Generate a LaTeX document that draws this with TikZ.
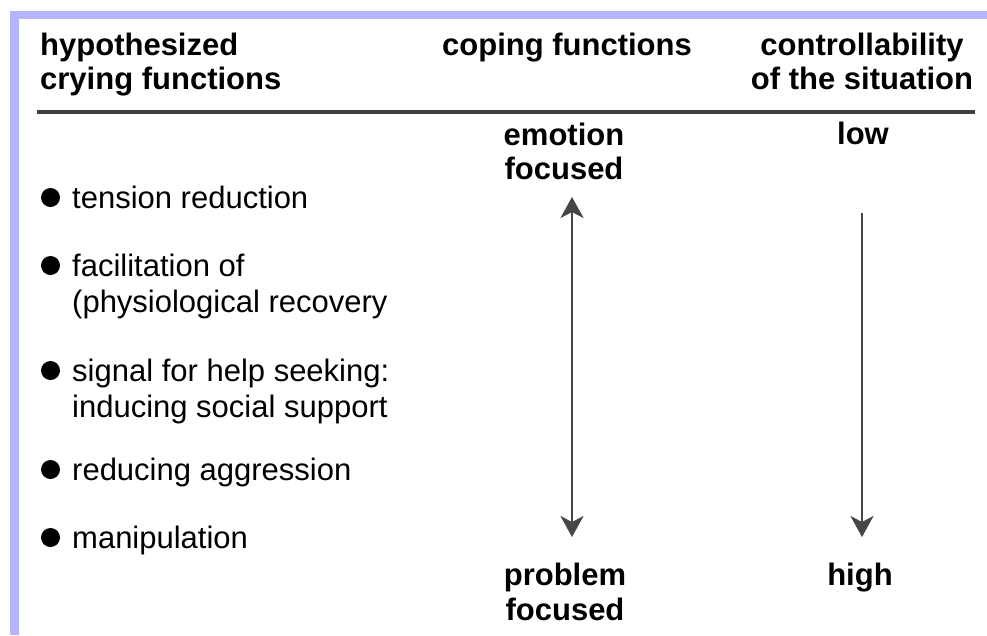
\documentclass[tikz,border=0pt]{standalone}
\usepackage{fontspec}
\setmainfont{Liberation Sans}
\usetikzlibrary{arrows.meta}
\definecolor{lav}{RGB}{180,180,255}
\definecolor{rulegray}{RGB}{64,64,64}
\definecolor{arrgray}{RGB}{70,70,70}
\tikzset{Tp/.tip={Stealth[length=21pt,width=23pt,inset=6pt]}}
\begin{document}
\begin{tikzpicture}[x=1pt,y=-1pt,
  txt/.style={inner sep=0pt, font=\fontsize{31}{34}\selectfont},
  hd/.style={inner sep=0pt, font=\fontsize{31}{34}\selectfont\bfseries},
  bul/.style={fill=black},
  arr/.style={draw=arrgray, line width=2.5pt}]
\useasboundingbox (0,0) rectangle (987,635);
\fill[white] (0,0) rectangle (987,635);
\fill[lav] (10,11) rectangle (987,19);
\fill[lav] (10,11) rectangle (19,635);
% headers
\node[hd, anchor=base west] (h1a) at (40,55) {hypothesized};
\node[hd, anchor=base west] (h1b) at (40,89) {crying functions};
\node[hd, anchor=base] (h2) at (567,55) {coping functions};
\node[hd, anchor=base] (h3a) at (862,55) {controllability};
\node[hd, anchor=base] (h3b) at (862,89) {of the situation};
\draw[rulegray, line width=4.5pt] (37,112) -- (975,112);
% column 2/3 labels
\node[hd, anchor=base] (emo) at (564,145) {emotion};
\node[hd, anchor=base] (efoc) at (564,179) {focused};
\node[hd, anchor=base] (low) at (863,144) {low};
\node[hd, anchor=base] (prob) at (565,585) {problem};
\node[hd, anchor=base] (pfoc) at (565,620) {focused};
\node[hd, anchor=base] (high) at (860,585) {high};
% list
\node[txt, anchor=base west] (i1) at (72,208) {tension reduction};
\node[txt, anchor=base west] (i2a) at (72,276) {facilitation of};
\node[txt, anchor=base west] (i2b) at (72,312) {(physiological recovery};
\node[txt, anchor=base west] (i3a) at (72,381) {signal for help seeking:};
\node[txt, anchor=base west] (i3b) at (72,417) {inducing social support};
\node[txt, anchor=base west] (i4) at (72,480) {reducing aggression};
\node[txt, anchor=base west] (i5) at (72,548) {manipulation};
\foreach \y in {208,276,381,480,548} \fill[bul] (50.5,\y-10.5) circle (9.5);
% arrows
\coordinate (cT) at (572,197);
\coordinate (cB) at (572,537);
\draw[arr, Tp-Tp] (cT) -- (cB);
\coordinate (rT) at (862,213);
\coordinate (rB) at (862,537);
\draw[arr, -Tp] (rT) -- (rB);
\end{tikzpicture}
\end{document}
